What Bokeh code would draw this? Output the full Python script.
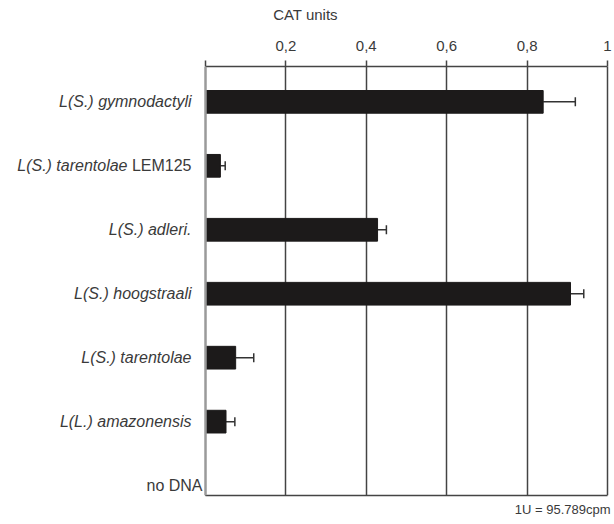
from bokeh.plotting import figure
from bokeh.models import Range1d, FixedTicker, Whisker, TeeHead, ColumnDataSource, Span, Title, LinearAxis
from bokeh.core.properties import value
from bokeh.embed import file_html
from bokeh.resources import INLINE

# ---- data ----
species = ["L(S.) gymnodactyli", "L(S.) tarentolae", "L(S.) adleri.", "L(S.) hoogstraali",
           "L(S.) tarentolae", "L(L.) amazonensis", "no DNA"]
suffix = ["", "LEM125", "", "", "", "", ""]
italic = [True, True, True, True, True, True, False]
cat_units = [0.84, 0.037, 0.428, 0.908, 0.075, 0.051, 0.0]
cat_err = [0.08, 0.012, 0.022, 0.033, 0.045, 0.022, 0.0]
x_ticks = [0, 0.2, 0.4, 0.6, 0.8, 1.0]
x_tick_labels = ["", "0,2", "0,4", "0,6", "0,8", "1"]
footnote = "1U = 95.789cpm"

FONT = "Liberation Sans"
TXT = "#3a3a3a"
DARK = "#444444"
n = len(species)
rows = list(range(n))

p = figure(width=612, height=522, output_backend="svg", toolbar_location=None,
           x_range=Range1d(-0.51, 1.0075), y_range=Range1d(n - 1 + 0.155, -0.553),
           x_axis_location="above", y_axis_location=None,
           min_border_left=0, min_border_right=2,
           min_border_top=66, min_border_bottom=27)

p.outline_line_color = None

# x axis (top), limited to 0..1
xa = p.xaxis[0]
xa.bounds = (0, 1)
xa.ticker = FixedTicker(ticks=x_ticks)
xa.major_label_overrides = {t: l for t, l in zip(x_ticks, x_tick_labels)}
xa.axis_label = "CAT units"
xa.axis_label_text_font = FONT
xa.axis_label_text_font_style = "normal"
xa.axis_label_text_font_size = "15px"
xa.axis_label_text_color = TXT
xa.axis_label_standoff = 15
xa.major_label_text_font = FONT
xa.major_label_text_font_size = "15px"
xa.major_label_text_color = TXT
xa.major_label_standoff = 10
xa.major_tick_out = 6
xa.major_tick_in = 0
xa.minor_tick_out = 0
xa.minor_tick_in = 0
xa.major_tick_line_color = DARK
xa.major_tick_line_width = 1.5
xa.axis_line_color = DARK
xa.axis_line_width = 1.5

# bottom line of the box
xb = LinearAxis(bounds=(0, 1), ticker=FixedTicker(ticks=[]),
                major_label_text_font_size="0px",
                major_tick_line_color=None, minor_tick_line_color=None,
                axis_line_color=DARK, axis_line_width=1.5)
p.add_layout(xb, "below")

p.add_layout(Title(text=footnote, align="right", text_font=FONT,
                   text_font_size="13px", text_font_style="normal",
                   text_color=TXT, standoff=8, offset=0), "below")

p.xgrid.ticker = FixedTicker(ticks=x_ticks[1:])
p.xgrid.grid_line_color = DARK
p.xgrid.grid_line_width = 1.5
p.ygrid.grid_line_color = None

# left grey line at x = 0
p.add_layout(Span(location=0, dimension="height", line_color="#9a9a9a", line_width=2.5))

src = ColumnDataSource(dict(y=rows, v=cat_units))
p.hbar(y="y", left=0, right="v", height=0.355, source=src,
       fill_color="#1c1a1a", line_color="#1c1a1a")

bar_idx = [i for i in rows if cat_err[i] > 0]
wsrc = ColumnDataSource(dict(y=[rows[i] for i in bar_idx],
                             lo=[cat_units[i] for i in bar_idx],
                             hi=[cat_units[i] + cat_err[i] for i in bar_idx]))
w = Whisker(base="y", lower="lo", upper="hi", dimension="width", source=wsrc,
            line_color="#333333", line_width=1.5,
            upper_head=TeeHead(size=9, line_color="#333333", line_width=1.5),
            lower_head=None)
p.add_layout(w)

# category labels (mixed italic / upright)
main_off = [(-14 - 64 if suffix[i] else (-14 if italic[i] else -3)) for i in rows]
lsrc = ColumnDataSource(dict(x=[0] * n, y=rows, t=species, off=main_off,
                             st=["italic" if it else "normal" for it in italic]))
p.text(x="x", y="y", text="t", x_offset="off", source=lsrc,
       text_align="right", text_baseline="middle", text_font=value(FONT),
       text_font_size="16px", text_color=TXT, text_font_style="st")

sidx = [i for i in rows if suffix[i]]
ssrc = ColumnDataSource(dict(x=[0] * len(sidx), y=[rows[i] for i in sidx],
                             t=[suffix[i] for i in sidx]))
p.text(x="x", y="y", text="t", x_offset=-14, source=ssrc,
       text_align="right", text_baseline="middle", text_font=value(FONT),
       text_font_size="16px", text_color=TXT, text_font_style="normal")

open("out.html", "w").write(file_html(p, INLINE))
